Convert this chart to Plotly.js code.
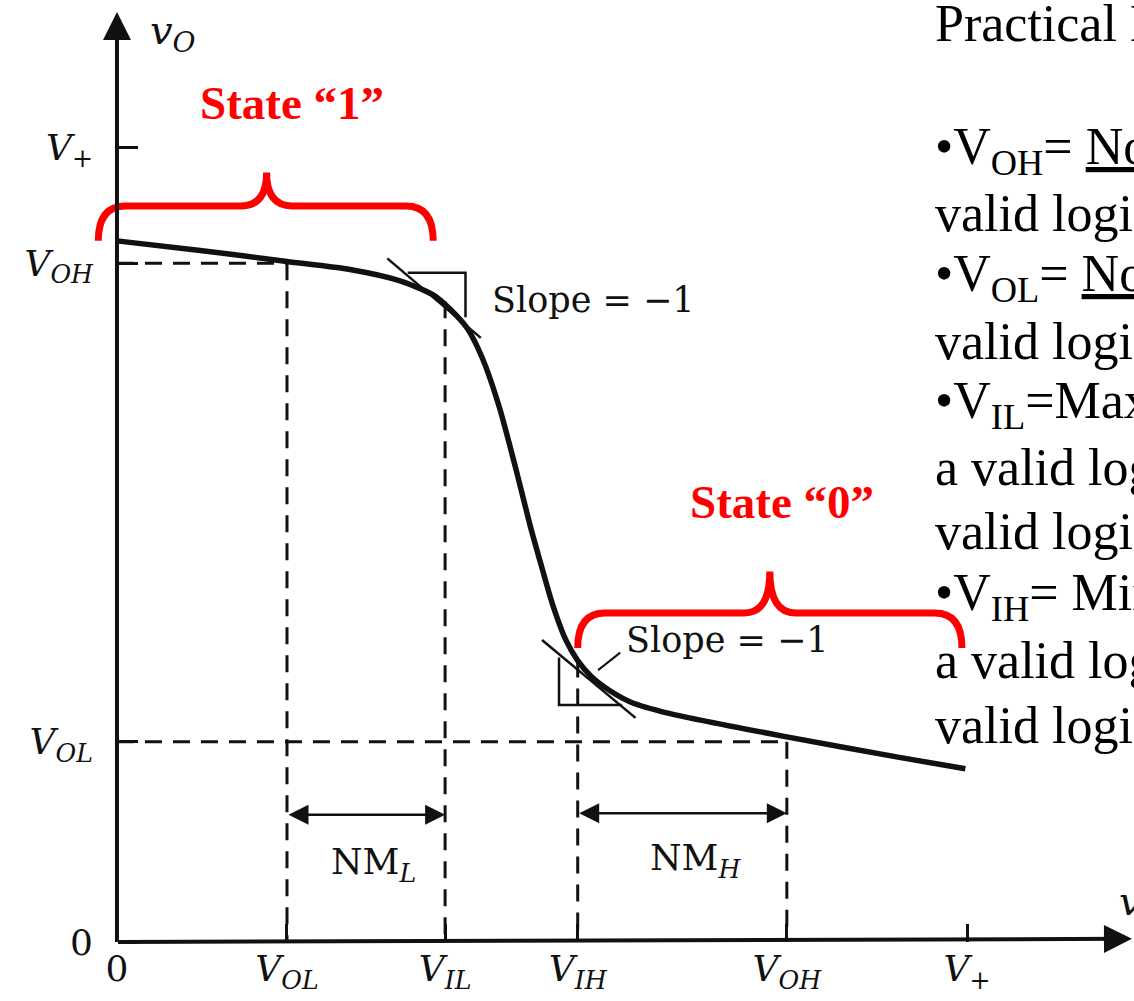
<!DOCTYPE html>
<html>
<head>
<meta charset="utf-8">
<script src="https://cdn.plot.ly/plotly-3.0.1.min.js"></script>
<style>
  html, body { margin: 0; padding: 0; background: #fff; overflow: hidden; }
  #chart { width: 1134px; height: 1001px; }
</style>
</head>
<body>
<div id="chart"></div>
<script>
// ---------- data (in diagram units: V+ = 5) ----------
const xTickVals = [0, 1.0, 1.93, 2.71, 3.94, 5.0];
const xTickText = ['0', '<i>V</i><sub><i>OL</i></sub>', '<i>V</i><sub><i>IL</i></sub>', '<i>V</i><sub><i>IH</i></sub>', '<i>V</i><sub><i>OH</i></sub>', '<i>V</i><sub>+</sub>'];
const yTickVals = [0, 1.26, 4.27, 5.0];
const yTickText = ['0', '<i>V</i><sub><i>OL</i></sub>', '<i>V</i><sub><i>OH</i></sub>', '<i>V</i><sub>+</sub>'];

// transfer characteristic v_O(v_I)
const curveX = [0, 0.49, 1.0, 1.37, 1.66, 1.86, 1.96, 2.06, 2.15, 2.25, 2.35, 2.43, 2.49, 2.56, 2.64, 2.71, 2.79, 2.90, 3.02, 3.24, 3.94, 4.61, 4.99];
const curveY = [4.41, 4.35, 4.28, 4.23, 4.16, 4.07, 3.98, 3.86, 3.67, 3.36, 2.96, 2.62, 2.39, 2.13, 1.90, 1.77, 1.67, 1.58, 1.51, 1.44, 1.29, 1.16, 1.09];

// slope = -1 tangents and their right-angle markers
const tangentHighX = [1.59, 2.14];
const tangentHighY = [4.30, 3.80];
const squareHighX = [1.71, 2.05, 2.05];
const squareHighY = [4.21, 4.21, 3.93];
const tangentLowX = [2.50, 3.05];
const tangentLowY = [1.90, 1.41];
const squareLowX = [2.60, 2.60, 2.97];
const squareLowY = [1.79, 1.49, 1.49];
const leaderX = [2.83, 2.96];
const leaderY = [1.71, 1.82];

// curve levels where the dashed verticals start
const dashTopAtVIL = 4.03;
const dashTopAtVIH = 1.77;

// noise margin arrows
const nmLabels = ['NM<sub><i>L</i></sub>', 'NM<sub><i>H</i></sub>'];
const nmArrowY = [0.80, 0.81];
const nmLabelX = [1.51, 3.40];
const nmLabelY = [0.49, 0.51];

// state braces: [left, right, middle, endY, barY, peakY]
const braceStates = ['State “1”', 'State “0”'];
const braceLeft = [-0.11, 2.71];
const braceRight = [1.86, 4.97];
const braceMid = [0.88, 3.84];
const braceEndY = [4.41, 1.85];
const braceBarY = [4.63, 2.07];
const bracePeakY = [4.84, 2.33];
const stateLabelX = [1.03, 3.91];
const stateLabelY = [5.28, 2.77];

const slopeText = 'Slope = −1';
const slopeLabelX = [2.80, 3.59];
const slopeLabelY = [4.04, 1.90];

// text block on the right
const sideLines = [
  'Practical Definitions',
  '•V<sub>OH</sub>= <u>Nominal</u> output voltage for a',
  'valid logic “1” output',
  '•V<sub>OL</sub>= <u>Nominal</u> output voltage for a',
  'valid logic “0” output',
  '•V<sub>IL</sub>=Maximum input voltage that gives',
  'a valid logic “1” output, and is a',
  'valid logic “0” input',
  '•V<sub>IH</sub>= Minimum input voltage that gives',
  'a valid logic “0” output, and is a',
  'valid logic “1” input'
];
const sideBaselinePx = [40, 167, 230, 294, 358, 422, 485, 548, 613, 677, 742];

// ---------- figure ----------
const VOLx = xTickVals[1], VILx = xTickVals[2], VIHx = xTickVals[3], VOHx = xTickVals[4];
const VOLy = yTickVals[1], VOHy = yTickVals[2];
const XR = [-0.688, 5.982], YR = [-0.371, 5.925];
const W = 1134, H = 1001;
const ink = '#111';
const red = '#ff0000';
const serif = 'Liberation Serif, Times New Roman, serif';
const book = 'DejaVu Serif, Liberation Serif, serif';

const traces = [
  {x: curveX, y: curveY, mode: 'lines', line: {color: ink, width: 5.5, shape: 'spline', smoothing: 0.7}, hoverinfo: 'skip'},
  {x: tangentHighX, y: tangentHighY, mode: 'lines', line: {color: ink, width: 2.5}, hoverinfo: 'skip'},
  {x: squareHighX, y: squareHighY, mode: 'lines', line: {color: ink, width: 2.5}, hoverinfo: 'skip'},
  {x: tangentLowX, y: tangentLowY, mode: 'lines', line: {color: ink, width: 2.5}, hoverinfo: 'skip'},
  {x: squareLowX, y: squareLowY, mode: 'lines', line: {color: ink, width: 2.5}, hoverinfo: 'skip'},
  {x: leaderX, y: leaderY, mode: 'lines', line: {color: ink, width: 2}, hoverinfo: 'skip'}
];

const dash = '17px,11px';
function dline(x0, y0, x1, y1) {
  return {type: 'line', xref: 'x', yref: 'y', x0, y0, x1, y1, line: {color: ink, width: 3, dash}};
}
const shapes = [
  dline(0, VOHy, VOLx, VOHy),
  dline(VOLx, VOHy, VOLx, 0),
  dline(VILx, dashTopAtVIL, VILx, 0),
  dline(VIHx, dashTopAtVIH, VIHx, 0),
  dline(0, VOLy, VOHx, VOLy),
  dline(VOHx, VOLy, VOHx, 0)
];

function bracePath(i) {
  const xl = braceLeft[i], xr = braceRight[i], xm = braceMid[i];
  const ye = braceEndY[i], yb = braceBarY[i], yp = bracePeakY[i];
  const r = 0.16, rp = 0.15;
  return `M${xl},${ye} Q${xl},${yb} ${xl + r},${yb} L${xm - rp},${yb} Q${xm},${yb} ${xm},${yp} ` +
         `Q${xm},${yb} ${xm + rp},${yb} L${xr - r},${yb} Q${xr},${yb} ${xr},${ye}`;
}
for (let i = 0; i < braceStates.length; i++) {
  shapes.push({type: 'path', xref: 'x', yref: 'y', path: bracePath(i), line: {color: red, width: 7}});
}

const annotations = [];
// axes with arrows
annotations.push({x: 0, y: 5.85, ax: 0, ay: 0, axref: 'x', ayref: 'y', xref: 'x', yref: 'y', text: '',
  showarrow: true, arrowhead: 2, arrowsize: 1.4, arrowwidth: 4, arrowcolor: ink, standoff: 0, startstandoff: 0});
annotations.push({x: 5.97, y: 0.02, ax: 0, ay: 0, axref: 'x', ayref: 'y', xref: 'x', yref: 'y', text: '',
  showarrow: true, arrowhead: 2, arrowsize: 1.4, arrowwidth: 4, arrowcolor: ink, standoff: 0, startstandoff: 0});
// axis names
annotations.push({x: 0.18, y: 5.72, xref: 'x', yref: 'y', xanchor: 'left', yanchor: 'middle', showarrow: false,
  text: '<i>v</i><sub><i>O</i></sub>', font: {family: book, size: 40, color: ink}});
annotations.push({x: 5.88, y: 0.24, xref: 'x', yref: 'y', xanchor: 'left', yanchor: 'middle', showarrow: false,
  text: '<i>v</i><sub><i>I</i></sub>', font: {family: book, size: 40, color: ink}});
// noise margins
const nmSpans = [[VOLx, VILx], [VIHx, VOHx]];
for (let i = 0; i < 2; i++) {
  annotations.push({x: nmSpans[i][1], y: nmArrowY[i], ax: nmSpans[i][0], ay: nmArrowY[i], axref: 'x', ayref: 'y',
    xref: 'x', yref: 'y', text: '', showarrow: true, arrowhead: 2, arrowside: 'end+start', arrowsize: 1.6,
    arrowwidth: 2.5, arrowcolor: ink, standoff: 0, startstandoff: 0});
  annotations.push({x: nmLabelX[i], y: nmLabelY[i], xref: 'x', yref: 'y', showarrow: false, text: nmLabels[i],
    font: {family: book, size: 36, color: ink}});
}
// slope labels
for (let i = 0; i < 2; i++) {
  annotations.push({x: slopeLabelX[i], y: slopeLabelY[i], xref: 'x', yref: 'y', showarrow: false, text: slopeText,
    font: {family: book, size: 35, color: ink}});
}
// state labels
for (let i = 0; i < 2; i++) {
  annotations.push({x: stateLabelX[i], y: stateLabelY[i], xref: 'x', yref: 'y', showarrow: false,
    text: '<b>' + braceStates[i] + '</b>', font: {family: serif, size: 47, color: red}});
}
// side text
for (let i = 0; i < sideLines.length; i++) {
  annotations.push({x: 933 / W, y: 1 - (sideBaselinePx[i] - 17) / H, xref: 'paper', yref: 'paper',
    xanchor: 'left', yanchor: 'middle', align: 'left', showarrow: false, text: sideLines[i],
    font: {family: serif, size: 52, color: '#000'}});
}

const layout = {
  width: W, height: H,
  margin: {l: 0, r: 0, t: 0, b: 0, pad: 0},
  paper_bgcolor: '#fff', plot_bgcolor: '#fff',
  showlegend: false,
  xaxis: {range: XR, showgrid: false, zeroline: false, showline: false, anchor: 'free', position: (H - 942) / H,
    tickmode: 'array', tickvals: xTickVals, ticktext: xTickText, ticks: 'inside', ticklen: 18, tickwidth: 3,
    tickcolor: ink, ticklabelstandoff: 2, tickfont: {family: book, size: 36, color: ink}, fixedrange: true},
  yaxis: {range: YR, showgrid: false, zeroline: false, showline: false, anchor: 'free', position: 117 / W,
    tickmode: 'array', tickvals: yTickVals, ticktext: yTickText, ticks: 'inside', ticklen: 20, tickwidth: 3,
    tickcolor: ink, ticklabelstandoff: 24, tickfont: {family: book, size: 36, color: ink}, fixedrange: true},
  shapes, annotations
};

Plotly.newPlot('chart', traces, layout, {displayModeBar: false, staticPlot: true});
</script>
</body>
</html>
